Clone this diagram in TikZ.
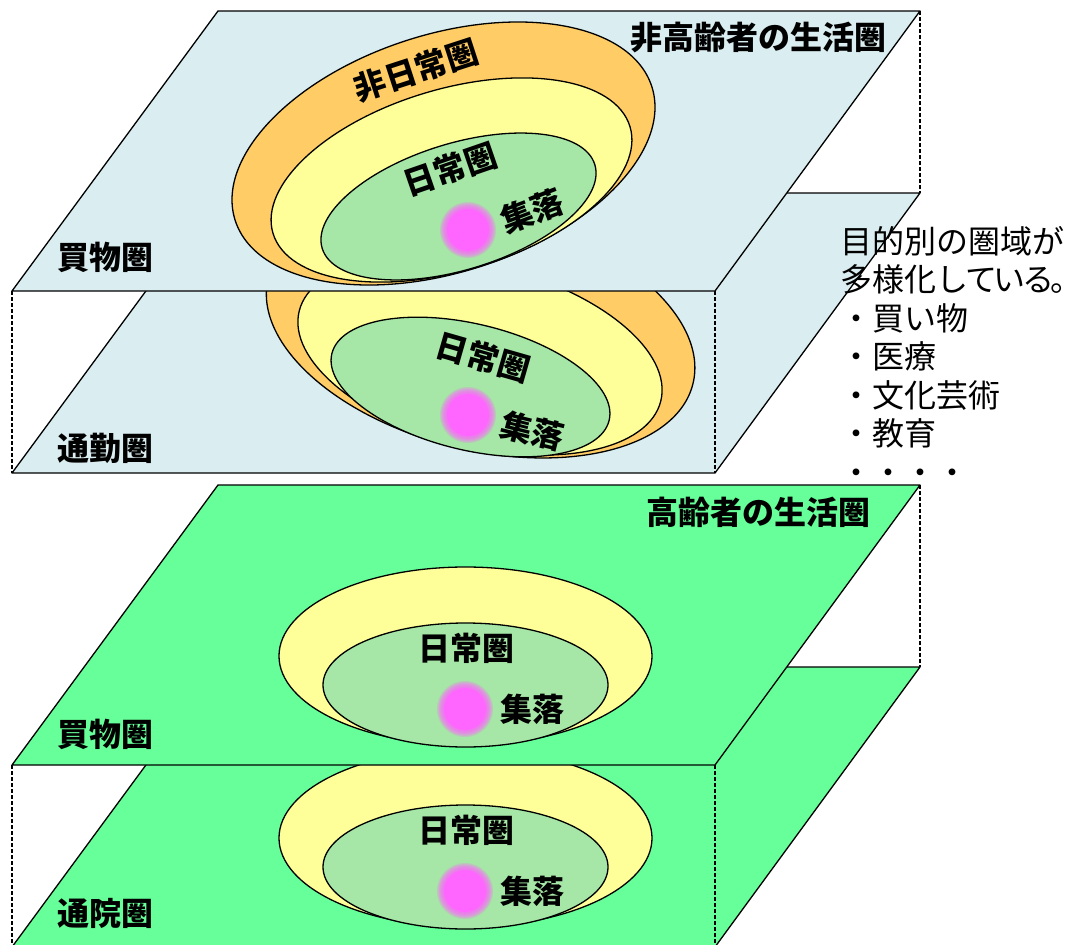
\documentclass[tikz,border=0pt]{standalone}
\usepackage{fontspec}
\setmainfont{Noto Sans CJK JP}
\definecolor{planeblue}{RGB}{218,237,240}
\definecolor{planegreen}{RGB}{102,255,153}
\definecolor{orangec}{RGB}{255,204,102}
\definecolor{yellowc}{RGB}{255,255,153}
\definecolor{ingreen}{RGB}{166,230,166}
\definecolor{dotpink}{RGB}{255,102,255}
\newcommand{\blurdot}[1]{%
  \foreach \rr in {28,27,26,25,24,23,22}{\fill[dotpink, opacity=0.22] #1 circle (\rr pt);}
  \fill[dotpink] #1 circle (21pt);}
\tikzset{
  plane/.style={draw=black, line width=1.3pt, line join=round},
  ring/.style={draw=black, line width=1.3pt},
  dashv/.style={draw=black, line width=1.1pt, dash pattern=on 4pt off 2pt},
  lbl/.style={inner sep=0pt, font=\bfseries\fontsize{32}{38}\selectfont},
  side/.style={inner sep=0pt, anchor=base west, font=\fontsize{32}{38}\selectfont}
}
\begin{document}
\begin{tikzpicture}[x=1pt,y=-1pt]
\useasboundingbox (0,0) rectangle (1079,945);
\clip (0,0) rectangle (1079,945);

% ---------- plane 2 (commuting) ----------
\filldraw[plane, fill=planeblue] (218,193) -- (920,193) -- (715,473) -- (12,473) -- cycle;
\filldraw[ring, fill=orangec, rotate around={-14:(480.6,331)}] (480.6,331) ellipse [x radius=218.8pt, y radius=118.9pt];
\filldraw[ring, fill=yellowc, rotate around={-14:(480,356)}] (480,356) ellipse [x radius=186.3pt, y radius=90.9pt];
\filldraw[ring, fill=ingreen, rotate around={-13.5:(470.5,387)}] (470.5,387) ellipse [x radius=142.6pt, y radius=63.1pt];
\blurdot{(468,415)}
\node[lbl, rotate=-16] (p2day) at (483,357) {日常圏};
\node[lbl, rotate=-14] (p2set) at (532,431) {集落};
\node[lbl] (p2name) at (105,448) {通勤圏};
\draw[dashv] (12,291) -- (12,473);
\draw[dashv] (715,291) -- (715,473);

% ---------- plane 1 (shopping, non-elderly) ----------
\filldraw[plane, fill=planeblue] (218,11) -- (920,11) -- (715,291) -- (12,291) -- cycle;
\filldraw[ring, fill=orangec, rotate around={17.8:(443.5,153.5)}] (443.5,153.5) ellipse [x radius=218.8pt, y radius=118.9pt];
\filldraw[ring, fill=yellowc, rotate around={16.6:(451.5,180)}] (451.5,180) ellipse [x radius=186.3pt, y radius=90.9pt];
\filldraw[ring, fill=ingreen, rotate around={17.1:(458.5,206.5)}] (458.5,206.5) ellipse [x radius=142.6pt, y radius=63.1pt];
\blurdot{(468,230)}
\node[lbl, rotate=18] (p1non) at (416,70) {非日常圏};
\node[lbl, rotate=19] (p1day) at (450,169) {日常圏};
\node[lbl, rotate=21] (p1set) at (532,211) {集落};
\node[lbl] (p1name) at (105,257) {買物圏};
\node[lbl] (ttlnon) at (758,38) {非高齢者の生活圏};
\draw[dashv] (920,11) -- (920,193);

% ---------- plane 4 (hospital) ----------
\filldraw[plane, fill=planegreen] (218,667) -- (920,667) -- (715,947) -- (12,947) -- cycle;
\filldraw[ring, fill=yellowc] (465.5,838) ellipse [x radius=186.5pt, y radius=89pt];
\filldraw[ring, fill=ingreen] (465.5,867) ellipse [x radius=142.5pt, y radius=62pt];
\blurdot{(465,891)}
\node[lbl] (p4day) at (466,830) {日常圏};
\node[lbl] (p4set) at (532,891) {集落};
\node[lbl] (p4name) at (105,913) {通院圏};
\draw[dashv] (12,765) -- (12,947);
\draw[dashv] (715,765) -- (715,947);

% ---------- plane 3 (shopping, elderly) ----------
\filldraw[plane, fill=planegreen] (218,485) -- (920,485) -- (715,765) -- (12,765) -- cycle;
\filldraw[ring, fill=yellowc] (465.5,656) ellipse [x radius=186.5pt, y radius=89pt];
\filldraw[ring, fill=ingreen] (465.5,685) ellipse [x radius=142.5pt, y radius=62pt];
\blurdot{(465,709)}
\node[lbl] (p3day) at (466,648) {日常圏};
\node[lbl] (p3set) at (532,709) {集落};
\node[lbl] (p3name) at (105,734) {買物圏};
\node[lbl] (ttlold) at (758,512) {高齢者の生活圏};
\draw[dashv] (920,485) -- (920,667);

% ---------- side note ----------
\node[side] (s1) at (840,253) {目的別の圏域が};
\node[side] (s2) at (840,291) {多様化し\kern-3pt て\kern-4pt い\kern-3pt る\kern-4pt 。\kern-14pt};
\node[side] (s3) at (840,330) {・買い物};
\node[side] (s4) at (840,368) {・医療};
\node[side] (s5) at (840,407) {・文化芸術};
\node[side] (s6) at (840,445) {・教育};
\node[side] (s7) at (840,484) {・・・・};
\end{tikzpicture}
\end{document}
